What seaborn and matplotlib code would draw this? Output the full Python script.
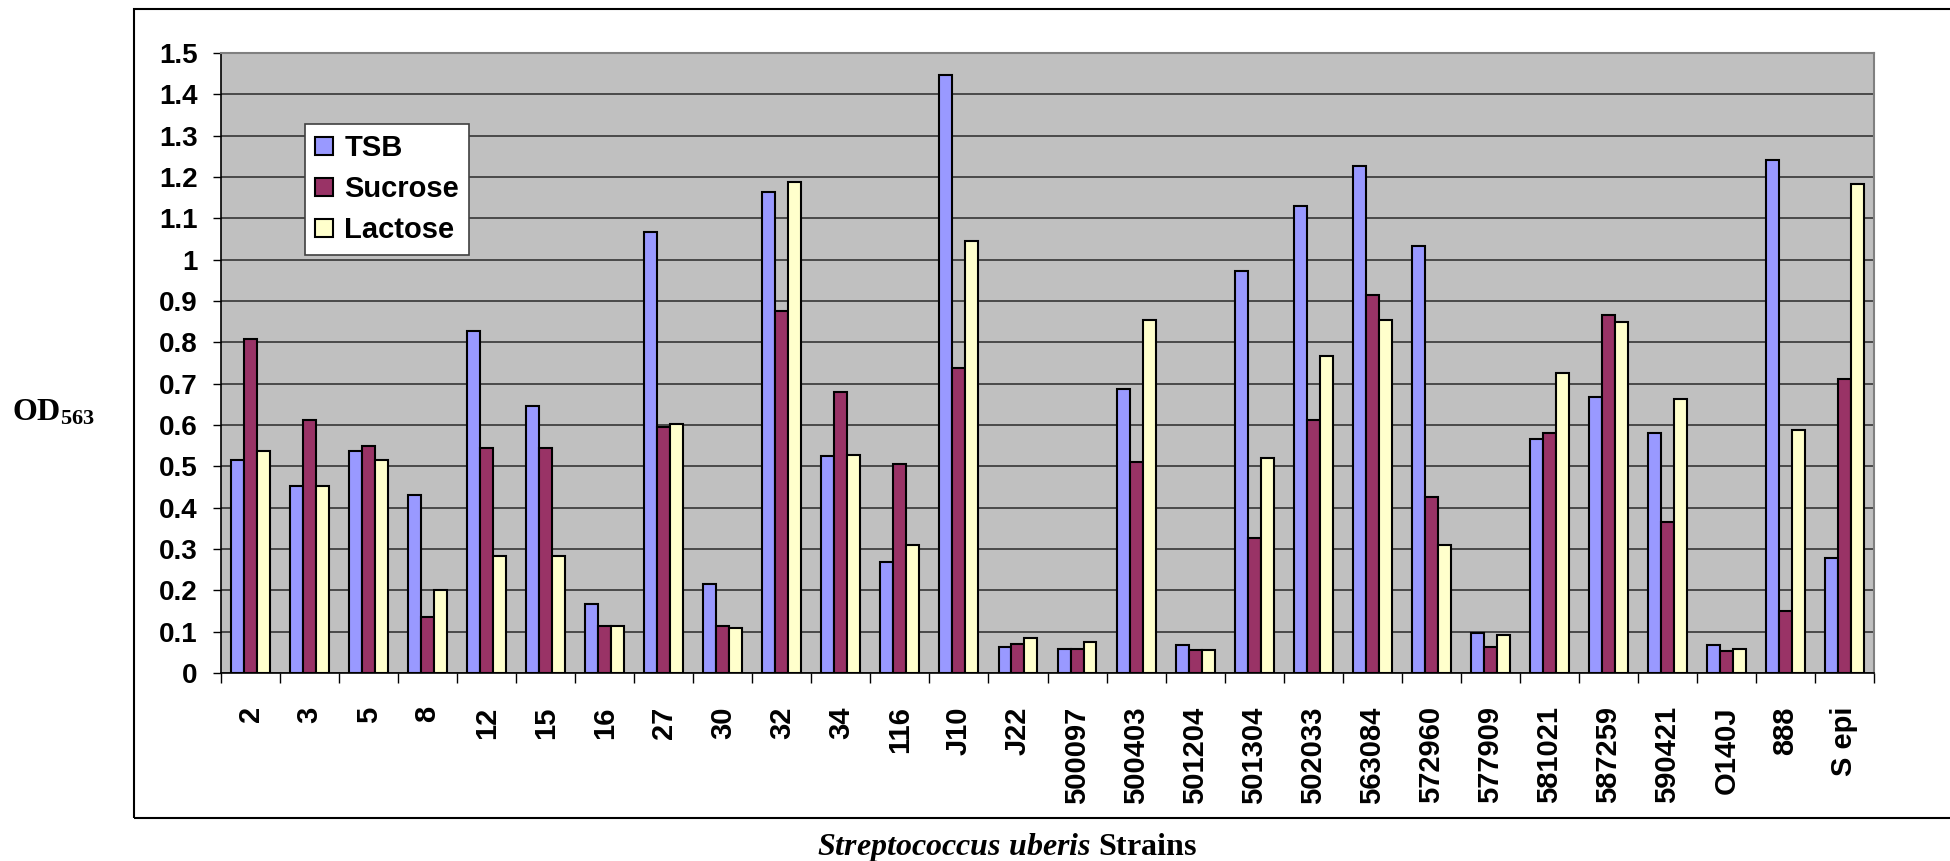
import matplotlib
matplotlib.use("Agg")
import matplotlib.pyplot as plt
from matplotlib.patches import Rectangle
import numpy as np
import pandas as pd
import seaborn as sns

# Datos (OD563 por cepa y medio)
strains = ["2", "3", "5", "8", "12", "15", "16", "27", "30", "32", "34", "116", "J10", "J22",
           "500097", "500403", "501204", "501304", "502033", "563084", "572960", "577909",
           "581021", "587259", "590421", "O140J", "888", "S epi"]
tsb = [0.515, 0.452, 0.537, 0.431, 0.827, 0.646, 0.166, 1.068, 0.215, 1.164, 0.524, 0.269,
       1.446, 0.063, 0.058, 0.686, 0.067, 0.972, 1.130, 1.226, 1.033, 0.097, 0.567, 0.668,
       0.581, 0.067, 1.240, 0.278]
sucrose = [0.809, 0.611, 0.550, 0.136, 0.545, 0.545, 0.114, 0.594, 0.114, 0.875, 0.681, 0.505,
           0.739, 0.071, 0.058, 0.510, 0.056, 0.326, 0.611, 0.914, 0.427, 0.063, 0.581, 0.866,
           0.365, 0.054, 0.150, 0.712]
lactose = [0.537, 0.452, 0.515, 0.202, 0.282, 0.282, 0.114, 0.602, 0.110, 1.188, 0.528, 0.309,
           1.046, 0.084, 0.076, 0.853, 0.056, 0.519, 0.766, 0.853, 0.309, 0.093, 0.726, 0.849,
           0.664, 0.058, 0.589, 1.184]
media = ["TSB", "Sucrose", "Lactose"]
colores = ["#9999FF", "#993366", "#FFFFCC"]

df = pd.DataFrame({"Strain": strains, "TSB": tsb, "Sucrose": sucrose, "Lactose": lactose})
df_long = df.melt(id_vars="Strain", value_vars=media, var_name="Medium", value_name="OD")

plt.rcParams["font.family"] = ["Liberation Sans", "DejaVu Sans"]
plt.rcParams["mathtext.fontset"] = "custom"
plt.rcParams["mathtext.rm"] = "Liberation Serif:bold"
plt.rcParams["mathtext.it"] = "Liberation Serif:italic:bold"

fig = plt.figure(figsize=(19.5, 8.61), dpi=100)
ax = fig.add_axes([221 / 1950, 1 - 673 / 861, (1874 - 221) / 1950, (673 - 53) / 861])
ax.set_facecolor("#C0C0C0")

sns.barplot(data=df_long, x="Strain", y="OD", hue="Medium", palette=colores, hue_order=media,
            order=strains, width=0.66, saturation=1, edgecolor="black", linewidth=1.5, ax=ax,
            errorbar=None, zorder=3)

ax.set_ylim(0, 1.5)
ax.set_xlim(-0.5, len(strains) - 0.5)
yt = np.round(np.arange(0, 1.51, 0.1), 1)
ax.set_yticks(yt)
ax.set_yticklabels([f"{v:g}" for v in yt], fontsize=20, fontweight="bold")
ax.yaxis.grid(True, color="#404040", linewidth=1.3, zorder=0)
ax.set_axisbelow(True)
ax.tick_params(axis="y", length=6, width=1, pad=11)

ax.set_xticks(range(len(strains)))
ax.set_xticklabels(strains, rotation=90, fontsize=21, fontweight="bold", va="top")
ax.set_xticks(np.arange(-0.5, len(strains), 1), minor=True)
ax.tick_params(axis="x", which="major", length=0, pad=24)
ax.tick_params(axis="x", which="minor", length=7, width=1)

ax.set_xlabel("")
ax.set_ylabel("")
for s in ["top", "right"]:
    ax.spines[s].set_color("#808080")
    ax.spines[s].set_linewidth(1.5)
for s in ["left", "bottom"]:
    ax.spines[s].set_color("black")
    ax.spines[s].set_linewidth(1.2)

handles, labels = ax.get_legend_handles_labels()
ax.legend(handles, labels, loc="upper left", bbox_to_anchor=(305 / 1950, 1 - 124 / 861),
          bbox_transform=fig.transFigure, borderaxespad=0, fancybox=False, framealpha=1,
          edgecolor="#404040", prop={"family": "Liberation Sans", "weight": "bold", "size": 21},
          handlelength=0.6, handleheight=0.6, handletextpad=0.4, labelspacing=0.45,
          borderpad=0.35)
ax.get_legend().get_frame().set_linewidth(1.2)

# Etiquetas de los ejes
fig.text(12 / 1950, 1 - 413 / 861, r"OD$_{\mathrm{563}}$", fontsize=23, fontfamily="Liberation Serif",
         fontweight="bold", ha="left", va="center")
fig.text(1007 / 1950, 1 - 848 / 861, r"$\mathit{Streptococcus\ uberis}$ Strains", fontsize=23,
         fontfamily="Liberation Serif", fontweight="bold", ha="center", va="center")

# Marco exterior del grafico
fig.patches.append(Rectangle((134 / 1950, 1 - 818 / 861), 1.0, (818 - 9) / 861,
                             transform=fig.transFigure, fill=False, edgecolor="black",
                             linewidth=1.5, clip_on=False))

fig.savefig("out.png", dpi=100)
